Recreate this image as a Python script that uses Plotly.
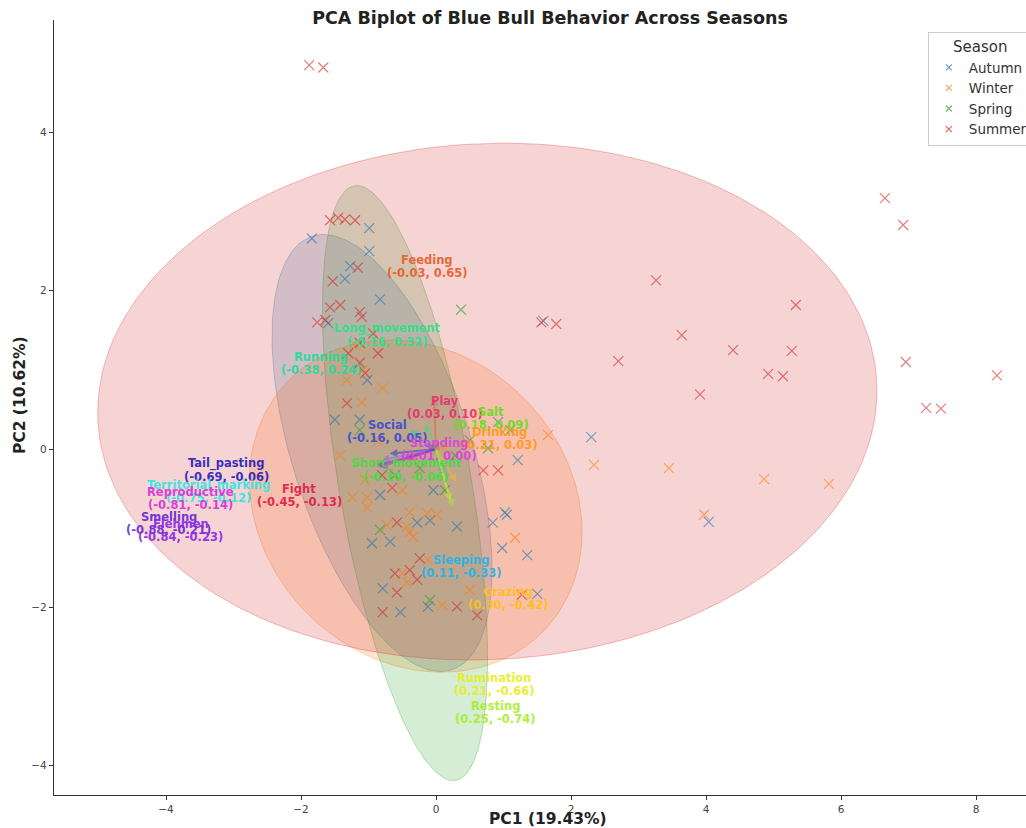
import numpy as np
import plotly.graph_objects as go

# ---- PCA scores per season (PC1, PC2) ----
seasons = ["Autumn", "Winter", "Spring", "Summer"]
season_colors = ["#1f77b4", "#ff7f0e", "#2ca02c", "#d62728"]

autumn_pc1 = [-1.84, -0.99, -0.99, -1.27, -1.35, -0.83, -1.60, -1.02, -1.13, -1.50, 2.30, 1.59, 4.04,
              1.50, 1.35, 1.02, 1.05, 0.84, 0.98, -0.83, -0.04, -0.28, -0.09, 0.31, -0.68, -0.79,
              -0.53, -0.12, 0.92, 1.21, -0.95]
autumn_pc2 = [2.66, 2.79, 2.50, 2.31, 2.15, 1.89, 1.59, 0.87, 0.37, 0.37, 0.15, 1.62, -0.92,
              -1.83, -1.34, -0.80, -0.83, -0.93, -1.25, -0.58, -0.52, -0.93, -0.90, -0.98, -1.17, -1.76,
              -2.06, -1.99, 0.34, -0.14, -1.19]

winter_pc1 = [1.66, 2.34, 3.45, 4.86, 5.82, 3.97, 1.17, -1.08, -1.10, -0.79, -1.05, -1.24, -1.02,
              -0.50, -1.02, -0.39, -0.13, 0.01, -0.73, -0.43, -0.39, -0.34, -0.12, -0.50, -0.43,
              0.09, -1.32, -1.20, -1.42, 0.50, -0.86]
winter_pc2 = [0.18, -0.20, -0.24, -0.38, -0.44, -0.83, -1.12, 1.00, 0.59, 0.77, -0.39, -0.61, -0.61,
              -0.52, -0.74, -0.80, -0.81, -0.83, -0.96, -0.98, -1.05, -1.11, -1.40, -1.57, -1.68,
              -1.97, 0.87, 1.31, -0.08, -1.78, 0.10]

spring_pc1 = [0.37, 0.50, 0.28, 0.77, -0.24, -0.61, 0.13, -0.83, -0.09, -1.13, 1.10]
spring_pc2 = [1.76, 0.11, -0.08, 0.01, -0.24, -0.33, -0.52, -1.02, -1.91, 0.24, 0.24]

summer_pc1 = [-1.88, -1.67, 6.65, 6.92, 3.26, 5.33, 1.78, 1.56, 3.64, 2.70, 4.40, 5.27, 4.92, 5.14,
              6.96, 8.31, 7.26, 7.48, 3.91, -1.57, -1.45, -1.35, -1.20, -1.16, -1.53, -1.57, -1.42,
              -1.13, -1.10, -1.76, -1.64, -0.86, -1.30, -1.13, -0.93, -1.32, -1.05, -1.13, 0.70, 0.92,
              -0.80, -0.58, -0.24, -0.61, -0.39, -0.28, -0.58, -0.79, 0.31, 0.61, 1.27, -0.65]
summer_pc2 = [4.85, 4.82, 3.17, 2.83, 2.13, 1.82, 1.58, 1.60, 1.44, 1.11, 1.25, 1.24, 0.95, 0.92,
              1.10, 0.93, 0.52, 0.51, 0.69, 2.89, 2.92, 2.90, 2.89, 2.29, 2.12, 1.79, 1.82,
              1.73, 1.67, 1.60, 1.63, 1.21, 1.21, 1.34, 1.46, 0.58, 0.96, 1.09, -0.27, -0.27,
              -0.33, -0.93, -1.38, -1.57, -1.53, -1.65, -1.81, -2.06, -1.99, -2.10, -1.84, -0.49]

scores_pc1 = [autumn_pc1, winter_pc1, spring_pc1, summer_pc1]
scores_pc2 = [autumn_pc2, winter_pc2, spring_pc2, summer_pc2]

# ---- Confidence ellipses per season (centre, full axis lengths, rotation in degrees) ----
ellipse_cx = [-0.80, -0.30, -0.46, 0.76]
ellipse_cy = [-0.05, -0.72, -0.43, 0.60]
ellipse_width = [5.86, 5.06, 7.66, 11.55]
ellipse_height = [2.60, 4.04, 1.95, 6.52]
ellipse_angle = [-68.0, -22.0, -78.5, 2.0]

# ---- Behaviour loadings ----
behaviors = ["Feeding", "Long_movement", "Running", "Play", "Salt", "Drinking", "Social",
             "Standing", "Short_movement", "Tail_pasting", "Territorial_marking", "Reproductive",
             "Fight", "Smelling", "Flehmen", "Sleeping", "Grazing", "Rumination", "Resting"]
load_pc1 = [-0.03, -0.16, -0.38, 0.03, 0.18, 0.21, -0.16, 0.01, -0.10, -0.69, -0.75, -0.81,
            -0.45, -0.88, -0.84, 0.11, 0.30, 0.21, 0.25]
load_pc2 = [0.65, 0.32, 0.24, 0.10, 0.09, 0.03, 0.05, 0.00, -0.06, -0.06, -0.12, -0.14,
            -0.13, -0.21, -0.23, -0.33, -0.42, -0.66, -0.74]
behavior_colors = ["#e4612b", "#2fe08a", "#22dd99", "#e8326e", "#66dd22", "#ff9a1a", "#3a4fd0",
                   "#e040e0", "#44dd44", "#2a1fc0", "#33e6e6", "#d633d6", "#e0204a", "#6a2ad6",
                   "#8a2be2", "#22b5e8", "#ffc01a", "#e8ee22", "#a8ee30"]

label_scale = 4.5
# small shifts keeping overlapping labels readable
label_shift = {"Feeding": (0.0, -0.62), "Play": (0.0, 0.07), "Salt": (0.0, -0.02),
               "Sleeping": (-0.12, 0.0), "Grazing": (-0.28, 0.0),
               "Rumination": (-0.09, 0.0), "Resting": (-0.25, 0.0)}


def rgba(hex_color, a):
    h = hex_color.lstrip("#")
    r, g, b = int(h[0:2], 16), int(h[2:4], 16), int(h[4:6], 16)
    return f"rgba({r},{g},{b},{a})"


fig = go.Figure()

# ellipses
t = np.linspace(0, 2 * np.pi, 200)
for i, s in enumerate(seasons):
    a = ellipse_width[i] / 2
    b = ellipse_height[i] / 2
    th = np.deg2rad(ellipse_angle[i])
    ex = ellipse_cx[i] + a * np.cos(t) * np.cos(th) - b * np.sin(t) * np.sin(th)
    ey = ellipse_cy[i] + a * np.cos(t) * np.sin(th) + b * np.sin(t) * np.cos(th)
    fig.add_trace(go.Scatter(
        x=ex, y=ey, mode="lines", fill="toself",
        fillcolor=rgba(season_colors[i], 0.2),
        line=dict(color=rgba(season_colors[i], 0.3), width=1),
        hoverinfo="skip", showlegend=False))

# score points
for i, s in enumerate(seasons):
    fig.add_trace(go.Scatter(
        x=scores_pc1[i], y=scores_pc2[i], mode="markers", name=s, showlegend=False,
        legendgroup=s,
        marker=dict(symbol="x-thin", size=10, opacity=0.6,
                    color=season_colors[i],
                    line=dict(color=season_colors[i], width=1.2))))

# legend entries with small markers
for i, s in enumerate(seasons):
    fig.add_trace(go.Scatter(
        x=[None], y=[None], mode="markers", name=s, legendgroup=s,
        marker=dict(symbol="x-thin", size=6, opacity=0.7,
                    color=season_colors[i],
                    line=dict(color=season_colors[i], width=1.2))))

annotations = []
# loading arrows
for name, lx, ly, col in zip(behaviors, load_pc1, load_pc2, behavior_colors):
    annotations.append(dict(
        x=lx, y=ly, ax=0, ay=0, xref="x", yref="y", axref="x", ayref="y",
        text="", showarrow=True, arrowhead=2, arrowsize=0.8, arrowwidth=2,
        arrowcolor=rgba(col, 0.45)))
# loading labels: name above, values below
for name, lx, ly, col in zip(behaviors, load_pc1, load_pc2, behavior_colors):
    dx, dy = label_shift.get(name, (0.0, 0.0))
    px = lx * label_scale + dx
    py = ly * label_scale + dy
    lab_font = dict(family="DejaVu Sans", size=11.5, color=col, weight="bold")
    annotations.append(dict(x=px, y=py, xref="x", yref="y", text=name, showarrow=False,
                            xanchor="center", yanchor="middle", yshift=6.5, opacity=0.92,
                            font=lab_font))
    annotations.append(dict(x=px, y=py, xref="x", yref="y", text=f"({lx:.2f}, {ly:.2f})",
                            showarrow=False, xanchor="center", yanchor="middle", yshift=-6.5,
                            opacity=0.92, font=lab_font))

# axis titles
annotations.append(dict(text="PC1 (19.43%)", xref="paper", yref="paper", x=0.508, y=0,
                        yshift=-24, xanchor="center", yanchor="middle", showarrow=False,
                        font=dict(family="DejaVu Sans", size=15.5, color="#222", weight="bold")))
annotations.append(dict(text="PC2 (10.62%)", xref="paper", yref="paper", x=-0.035, y=0.516,
                        textangle=-90, xanchor="center", yanchor="middle", showarrow=False,
                        font=dict(family="DejaVu Sans", size=15.5, color="#222", weight="bold")))

axis_common = dict(showgrid=False, zeroline=False, showline=True, linecolor="#333",
                   linewidth=1.2, ticks="outside", ticklen=4, tickcolor="#333",
                   tickfont=dict(family="DejaVu Sans", size=10.5, color="#444"), mirror=False)

fig.update_layout(
    width=1026, height=828,
    margin=dict(l=54, r=0, t=20, b=33, autoexpand=False),
    paper_bgcolor="white", plot_bgcolor="white",
    title=dict(text="PCA Biplot of Blue Bull Behavior Across Seasons",
               x=550 / 1026, xref="container", xanchor="center",
               y=1 - 18 / 828, yref="container", yanchor="middle",
               font=dict(family="DejaVu Sans", size=17.5, color="#222", weight="bold")),
    xaxis=dict(range=[-5.66, 8.74], tickvals=[-4, -2, 0, 2, 4, 6, 8], **axis_common),
    yaxis=dict(range=[-4.37, 5.42], tickvals=[-4, -2, 0, 2, 4], **axis_common),
    legend=dict(x=0.899, y=0.985, xanchor="left", yanchor="top",
                bgcolor="rgba(255,255,255,0.85)", bordercolor="#cccccc", borderwidth=1,
                title=dict(text="Season", side="top center",
                           font=dict(family="DejaVu Sans", size=15, color="#333")),
                font=dict(family="DejaVu Sans", size=13.5, color="#333"),
                itemsizing="trace", tracegroupgap=0),
    annotations=annotations,
    showlegend=True,
)

fig.write_html("out.html")
